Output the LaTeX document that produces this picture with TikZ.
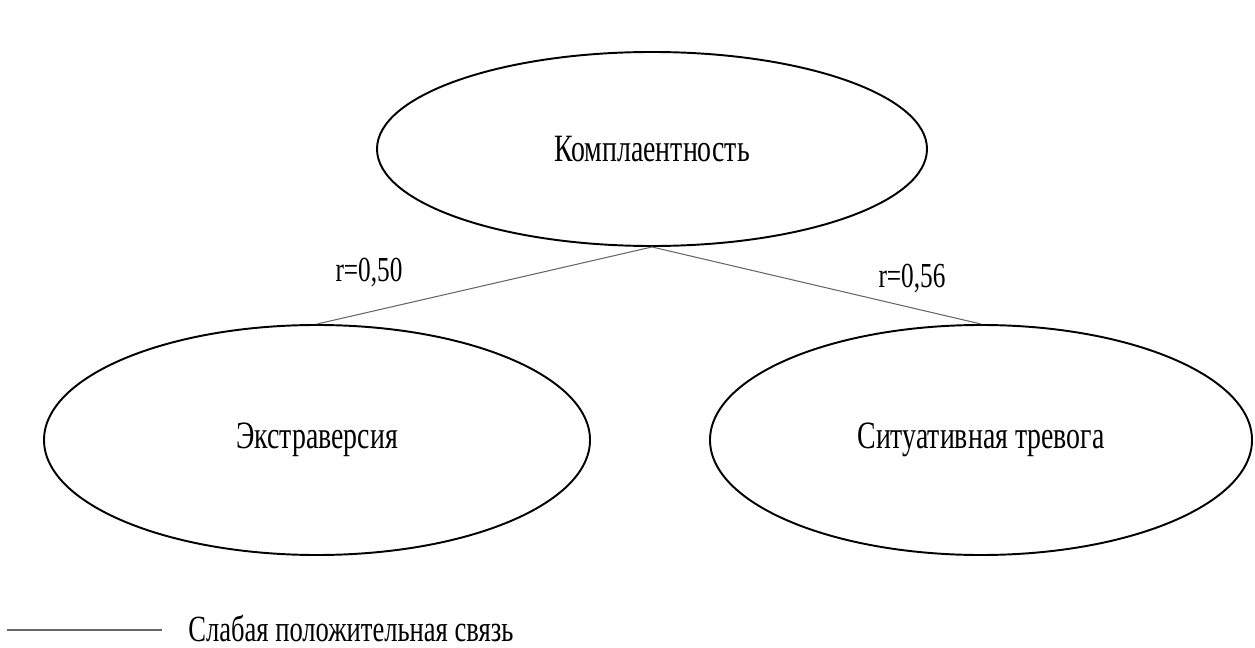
\documentclass[tikz,border=0pt]{standalone}
\usepackage{fontspec}
\setmainfont[FakeStretch=0.72]{Liberation Serif}
\usetikzlibrary{shapes.geometric}
\tikzset{
  factor/.style={draw=black, line width=1.1pt, ellipse, inner sep=0pt, font=\fontsize{22}{26}\selectfont},
  link/.style={draw=black!60, line width=0.6pt},
  coef/.style={font=\fontsize{20}{24}\selectfont, inner sep=0pt, anchor=base}
}
\begin{document}
\begin{tikzpicture}[x=0.2mm, y=-0.2mm]
  \useasboundingbox (0,0) rectangle (1255,648);
  % factors
  \node[factor, minimum width=110mm, minimum height=38.8mm] (compl) at (652,149) {Комплаентность};
  \node[factor, minimum width=109.2mm, minimum height=46mm] (extra) at (317,440) {Экстраверсия};
  \node[factor, minimum width=108.4mm, minimum height=46mm] (anx) at (981,440) {Ситуативная тревога};

  % correlations
  \draw[link] (compl.south) -- (extra.north);
  \draw[link] (compl.south) -- (anx.north);
  \node[coef] (r1) at (369,282) {r=0,50};
  \node[coef] (r2) at (912,288) {r=0,56};

  % legend
  \coordinate (legA) at (7,630);
  \coordinate (legB) at (162,630);
  \draw[link] (legA) -- (legB);
  \node[coef, anchor=base west, font=\fontsize{21}{25}\selectfont] (legtext) at (188,641) {Слабая положительная связь};
\end{tikzpicture}
\end{document}
